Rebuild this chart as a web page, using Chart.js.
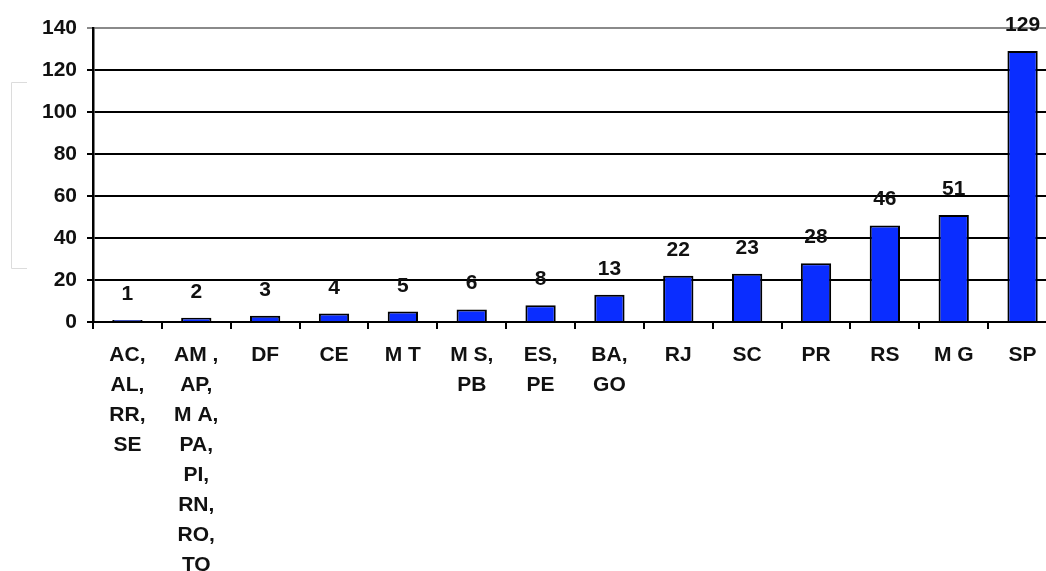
<!DOCTYPE html>
<html>
<head>
<meta charset="utf-8">
<script src="https://cdn.jsdelivr.net/npm/chart.js@4"></script>
<style>
  html, body { margin: 0; padding: 0; background: #fff; overflow: hidden; }
  #wrap { position: relative; width: 1057px; height: 571px; }
</style>
</head>
<body>
<div id="wrap"><canvas id="barChart"></canvas></div>
<script>
const estados = [
  ['AC,', 'AL,', 'RR,', 'SE'],
  ['AM ,', 'AP,', 'M A,', 'PA,', 'PI,', 'RN,', 'RO,', 'TO'],
  'DF', 'CE', 'M T',
  ['M S,', 'PB'],
  ['ES,', 'PE'],
  ['BA,', 'GO'],
  'RJ', 'SC', 'PR', 'RS', 'M G', 'SP'
];
const quantidade = [1, 2, 3, 4, 5, 6, 8, 13, 22, 23, 28, 46, 51, 129];
const yTicks = [0, 20, 40, 60, 80, 100, 120, 140];

const fonte = '"Liberation Sans", Arial, sans-serif';
const ctx = document.getElementById('barChart').getContext('2d');

// numeros em cima das barras
const rotulos = {
  id: 'rotulos',
  afterDatasetsDraw(chart) {
    const c = chart.ctx;
    const meta = chart.getDatasetMeta(0);
    c.save();
    c.font = 'bold 21px ' + fonte;
    c.fillStyle = '#111';
    c.textAlign = 'center';
    c.textBaseline = 'alphabetic';
    meta.data.forEach((bar, i) => {
      c.fillText(String(quantidade[i]), bar.x, bar.y - 20);
    });
    c.restore();
  }
};

// moldura clara no canto esquerdo
const moldura = {
  id: 'moldura',
  beforeDraw(chart) {
    const c = chart.ctx;
    c.save();
    c.strokeStyle = '#dcdcdc';
    c.lineWidth = 1;
    c.beginPath();
    c.moveTo(27, 82.5); c.lineTo(11.5, 82.5); c.lineTo(11.5, 268.5); c.lineTo(27, 268.5);
    c.stroke();
    c.restore();
  }
};

const data = {
  labels: estados,
  datasets: [{
    data: quantidade,
    backgroundColor: '#0A2DFF',
    borderColor: '#000',
    borderWidth: 2,
    barPercentage: 0.44,
    categoryPercentage: 1
  }]
};

const options = {
  responsive: true,
  maintainAspectRatio: false,
  animation: false,
  layout: { padding: { top: 28, left: 0, right: 0, bottom: 0 } },
  plugins: { legend: { display: false }, tooltip: { enabled: false } },
  scales: {
    x: {
      grid: { drawOnChartArea: false, color: '#000', lineWidth: 2, tickLength: 7 },
      border: { color: '#000', width: 2 },
      ticks: {
        color: '#111',
        padding: 11,
        maxRotation: 0,
        autoSkip: false,
        font: { family: fonte, size: 21, weight: 'bold', lineHeight: 1.43 }
      },
      afterFit(scale) { scale.height = 571 - 28 - 294; }
    },
    y: {
      min: 0,
      max: 140,
      afterBuildTicks(scale) { scale.ticks = yTicks.map(v => ({ value: v })); },
      grid: {
        color: c => (c.tick && c.tick.value === 140 ? '#8a8a8a' : '#000'),
        lineWidth: 2,
        tickLength: 6
      },
      border: { color: '#000', width: 2.5 },
      ticks: {
        color: '#111',
        padding: 10,
        font: { family: fonte, size: 21, weight: 'bold' }
      },
      afterFit(scale) { scale.width = 93; }
    }
  }
};

const barChart = new Chart(ctx, {
  type: 'bar',
  data: data,
  options: options,
  plugins: [rotulos, moldura]
});
</script>
</body>
</html>
